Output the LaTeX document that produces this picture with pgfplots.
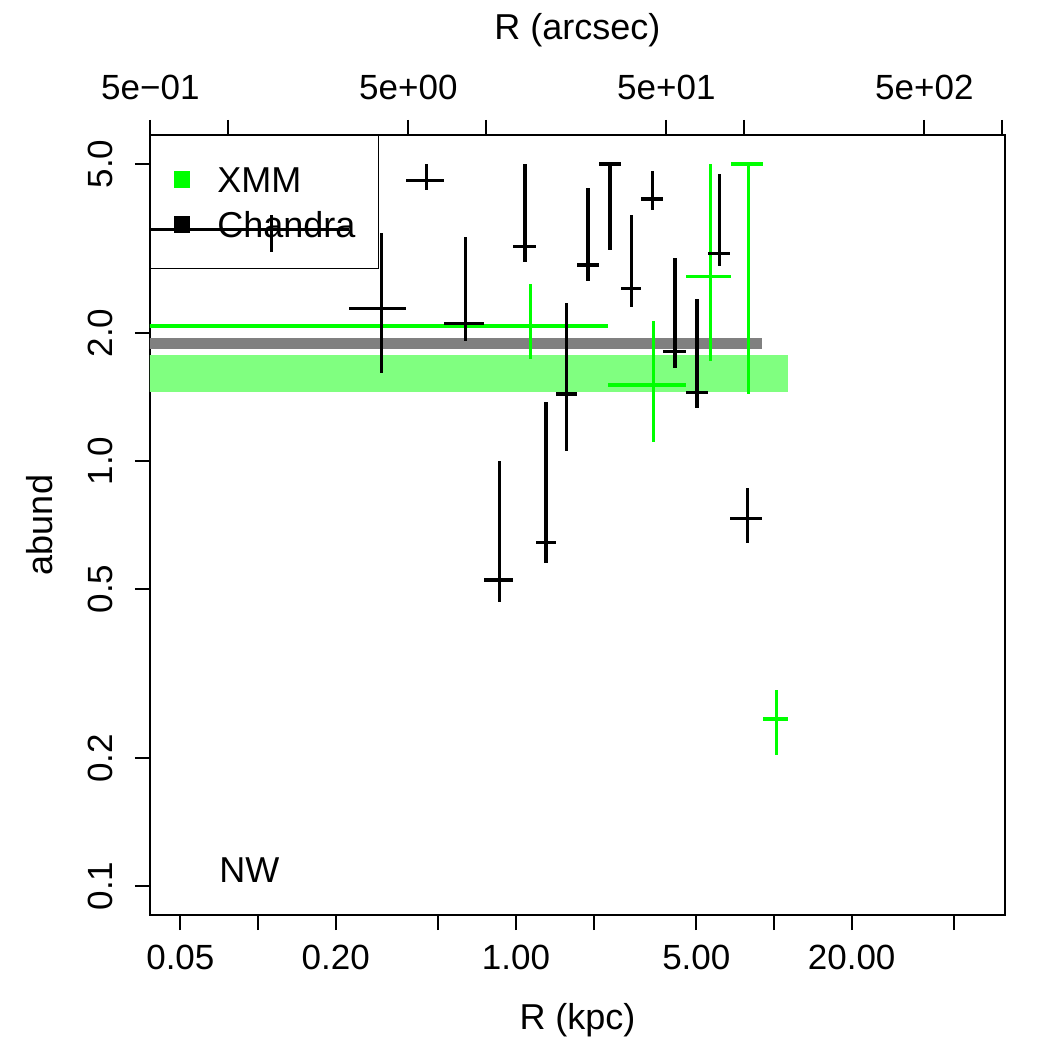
\documentclass[border=0pt]{standalone}
\usepackage{pgfplots}
\pgfplotsset{compat=1.18}
\usepackage{pgfplotstable}
\usepackage{fontspec}
\setmainfont{Liberation Sans}
\setsansfont{Liberation Sans}

\definecolor{xmmgreen}{RGB}{0,255,0}
\definecolor{bandgreen}{RGB}{128,255,128}
\definecolor{bandgray}{RGB}{128,128,128}

% Chandra profile: bin centre, bin edges (kpc), abundance and its limits
\pgfplotstableread{
x      xlo     xhi     y       ylo     yhi
0.113  0.020   0.226   3.510   3.108   3.792
0.301  0.226   0.376   2.282   1.613   3.434
0.450  0.376   0.524   4.566   4.342   5.000
0.637  0.524   0.749   2.106   1.921   3.372
0.861  0.749   0.972   0.5248  0.4652  1.000
1.083  0.972   1.194   3.193   2.944   5.000
1.308  1.194   1.423   0.6424  0.5763  1.374
1.570  1.423   1.721   1.438   1.057   2.350
1.903  1.721   2.088   2.892   2.652   4.382
2.315  2.088   2.542   5.000   3.137   5.000
2.797  2.542   3.055   2.549   2.307   3.792
3.390  3.055   3.724   4.135   3.896   4.812
4.135  3.724   4.553   1.807   1.652   3.000
5.030  4.553   5.524   1.451   1.331   2.402
6.140  5.524   6.762   3.081   2.876   4.727
7.870  6.762   8.985   0.7328  0.6404  0.8653
}\chandra

% XMM profile
\pgfplotstableread{
x      xlo     xhi     y       ylo     yhi
1.135  0.020   2.270   2.078   1.735   2.609
3.405  2.270   4.540   1.510   1.107   2.135
5.675  4.540   6.810   2.714   1.722   5.000
7.945  6.810   9.080   5.000   1.438   5.000
10.215 9.080   11.350  0.2472  0.2030  0.2891
}\xmm

\begin{document}
\begin{tikzpicture}
\pgfplotsset{
  errcross/.style={
    draw=none, mark=none,
    legend image code/.code={\fill (0pt,-4.2pt) rectangle (8.4pt,4.2pt);},
    error bars/.cd,
      x dir=both, y dir=both, x explicit, y explicit,
      error mark=none,
      error bar style={line width=1.6pt, draw=#1},
  },
}
\begin{axis}[
  at={(0,0)}, anchor=south west,
  scale only axis, width=427.5pt, height=390pt,
  xmode=log, ymode=log,
  xmin=0.03814, xmax=78.6, ymin=0.0855, ymax=5.85,
  xtick={0.05,0.1,0.2,0.5,1,2,5,10,20,50},
  xticklabels={0.05,,0.20,,1.00,,5.00,,20.00,},
  ytick={0.1,0.2,0.5,1,2,5},
  yticklabels={0.1,0.2,0.5,1.0,2.0,5.0},
  xminorticks=false, yminorticks=false,
  xtick pos=bottom, ytick pos=left,
  tick align=outside, major tick length=7.6pt,
  every tick/.style={line width=1pt, black},
  axis line style={line width=1pt},
  tick label style={font=\fontsize{17.5}{21}\selectfont},
  xticklabel style={anchor=base, inner sep=0pt, yshift=-19.5pt},
  yticklabel style={xshift=-11pt, rotate=90, anchor=base, inner sep=0pt},
  label style={font=\fontsize{18}{21}\selectfont},
  xlabel={R (kpc)},
  xlabel style={at={(axis description cs:0.5,-0.1462)}, anchor=base, inner sep=0pt},
  ylabel={abund},
  ylabel style={at={(axis description cs:-0.1135,0.5)}, rotate=0, anchor=base, inner sep=0pt},
  legend style={
    at={(0,1)}, anchor=north west,
    fill=none, draw=black, line width=0.6pt,
    inner xsep=11.5pt, inner ysep=15.5pt,
    row sep=9.5pt, column sep=13.5pt,
    font=\fontsize{18}{21}\selectfont,
    nodes={inner sep=0pt, text height=13pt, text depth=0pt},
  },
  legend cell align=left,
]
% mean abundance bands
\addplot[fill=bandgreen, draw=none, forget plot]
  coordinates {(0.02,1.451) (11.35,1.451) (11.35,1.776) (0.02,1.776)} -- cycle;
\addplot[fill=bandgray, draw=none, forget plot]
  coordinates {(0.02,1.834) (8.95,1.834) (8.95,1.944) (0.02,1.944)} -- cycle;

\addplot[color=xmmgreen, errcross=xmmgreen]
  table[x=x, y=y,
    x error plus expr=\thisrow{xhi}-\thisrow{x},
    x error minus expr=\thisrow{x}-\thisrow{xlo},
    y error plus expr=\thisrow{yhi}-\thisrow{y},
    y error minus expr=\thisrow{y}-\thisrow{ylo}] {\xmm};
\addlegendentry{XMM}

\addplot[color=black, errcross=black]
  table[x=x, y=y,
    x error plus expr=\thisrow{xhi}-\thisrow{x},
    x error minus expr=\thisrow{x}-\thisrow{xlo},
    y error plus expr=\thisrow{yhi}-\thisrow{y},
    y error minus expr=\thisrow{y}-\thisrow{ylo}] {\chandra};
\addlegendentry{Chandra}

\node[anchor=base west, inner sep=0pt, font=\fontsize{18}{21}\selectfont]
  at (axis cs:0.0706,0.1018) {NW};
\end{axis}

% arcsec scale along the top
\begin{axis}[
  at={(0,0)}, anchor=south west,
  scale only axis, width=427.5pt, height=390pt,
  xmode=log, xmin=0.4985, xmax=1027, ymin=0, ymax=1,
  axis x line*=top, axis y line=none,
  xtick={0.5,1,5,10,50,100,500,1000},
  xticklabels={5e−01,,5e+00,,5e+01,,5e+02,},
  xminorticks=false,
  tick align=outside, major tick length=7.6pt,
  every tick/.style={line width=1pt, black},
  axis line style={line width=1pt},
  tick label style={font=\fontsize{17.5}{21}\selectfont},
  xticklabel style={anchor=base, inner sep=0pt, yshift=10pt},
  xlabel={R (arcsec)},
  label style={font=\fontsize{18}{21}\selectfont},
  xlabel style={at={(axis description cs:0.5,1.1218)}, anchor=base, inner sep=0pt},
]
\end{axis}

\path (-75pt,-67.5pt) rectangle (450pt,457.5pt);
\end{tikzpicture}
\end{document}
